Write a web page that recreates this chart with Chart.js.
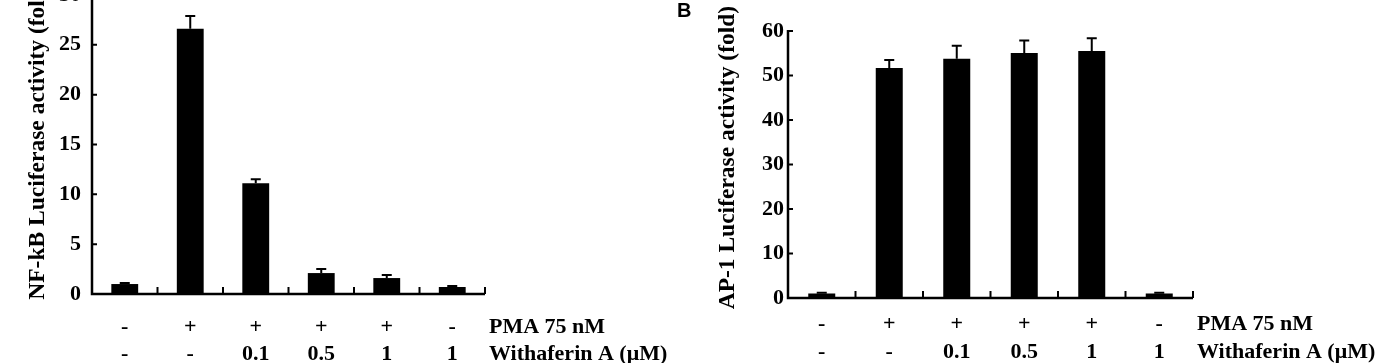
<!DOCTYPE html>
<html><head><meta charset="utf-8">
<script src="https://cdn.jsdelivr.net/npm/chart.js@4"></script>
<style>
html,body{margin:0;padding:0;background:#fff;width:1383px;height:363px;overflow:hidden;position:relative}
#wa{position:absolute;left:0;top:-40px;width:700px;height:403px}
#wb{position:absolute;left:660px;top:0;width:723px;height:363px}
#lb{position:absolute;left:677px;top:0;font:bold 20px "Liberation Sans",Arial,sans-serif;line-height:20px}
</style></head><body>
<div id="wa"><canvas id="ca" width="700" height="403"></canvas></div>
<div id="wb"><canvas id="cb" width="723" height="363"></canvas></div>
<div id="lb">B</div>
<script>
const categories = ['1','2','3','4','5','6'];
const pmaRow = ['-','+','+','+','+','-'];
const withaferinRow = ['-','-','0.1','0.5','1','1'];
const rowNames = ['PMA 75 nM','Withaferin A (\u03bcM)'];
const nfkbValues = [1.0,26.6,11.1,2.1,1.6,0.7];
const nfkbErrors = [0.1,1.3,0.4,0.4,0.3,0.1];
const ap1Values = [1.0,51.7,53.8,55.1,55.5,1.0];
const ap1Errors = [0.2,1.8,2.9,2.8,2.9,0.2];
const nfkbTicks = [0,5,10,15,20,25,30];
const ap1Ticks = [0,10,20,30,40,50,60];

const SERIF = '"Liberation Serif","Times New Roman",serif';

const decor = {
  id: 'decor',
  afterDatasetsDraw(chart, args, o) {
    const ctx = chart.ctx, ys = chart.scales.y, ca = chart.chartArea;
    const meta = chart.getDatasetMeta(0);
    const vals = chart.data.datasets[0].data;
    const n = vals.length;
    ctx.save();
    ctx.strokeStyle = '#000';
    ctx.lineWidth = 2;
    ctx.lineCap = 'butt';
    // error bars (upper)
    meta.data.forEach((bar, i) => {
      const yTop = ys.getPixelForValue(vals[i] + o.errors[i]);
      ctx.beginPath();
      ctx.moveTo(bar.x, bar.y);
      ctx.lineTo(bar.x, yTop);
      ctx.moveTo(bar.x - 5, yTop);
      ctx.lineTo(bar.x + 5, yTop);
      ctx.stroke();
    });
    // axes
    const topTick = ys.getPixelForValue(o.ticks[o.ticks.length - 1]);
    ctx.lineWidth = 2.5;
    ctx.beginPath();
    ctx.moveTo(ca.left, topTick - 1);
    ctx.lineTo(ca.left, ca.bottom);
    ctx.lineTo(ca.right, ca.bottom);
    ctx.stroke();
    ctx.lineWidth = 2;
    ctx.beginPath();
    o.ticks.forEach(v => {
      const y = ys.getPixelForValue(v);
      ctx.moveTo(ca.left, y);
      ctx.lineTo(ca.left + 5, y);
    });
    for (let i = 1; i <= n; i++) {
      const x = ca.left + (ca.right - ca.left) * i / n;
      ctx.moveTo(x, ca.bottom);
      ctx.lineTo(x, ca.bottom - 7);
    }
    ctx.stroke();
    // row names
    ctx.fillStyle = '#000';
    ctx.font = 'bold 22px ' + SERIF;
    ctx.textAlign = 'left';
    ctx.textBaseline = 'middle';
    rowNames.forEach((s, i) => {
      ctx.fillText(s, ca.right + o.nameDx, ca.bottom + o.labPad + o.lh / 2 + i * o.lh);
    });
    ctx.restore();
  }
};

function makeChart(id, values, errors, ticks, yMax, opts) {
  const labels = pmaRow.map((p, i) => [p, withaferinRow[i]]);
  return new Chart(document.getElementById(id), {
    type: 'bar',
    data: {
      labels: labels,
      datasets: [{
        label: opts.title,
        data: values,
        backgroundColor: '#000',
        borderWidth: 0,
        barPercentage: 1,
        categoryPercentage: opts.catPct
      }]
    },
    options: {
      responsive: false,
      animation: false,
      devicePixelRatio: 1,
      layout: { padding: { top: opts.padTop, right: opts.padRight, left: 0, bottom: 0 } },
      plugins: {
        legend: { display: false },
        tooltip: { enabled: false },
        decor: { errors: errors, ticks: ticks, nameDx: opts.nameDx, labPad: opts.labPad, lh: opts.lh }
      },
      scales: {
        x: {
          grid: { display: false, drawTicks: false },
          border: { display: false },
          ticks: {
            color: '#000', padding: opts.labPad, maxRotation: 0, autoSkip: false,
            font: { family: SERIF, size: 22, weight: 'bold', lineHeight: opts.lh / 22 }
          },
          afterFit: s => { s.height = opts.xH; }
        },
        y: {
          min: 0, max: yMax,
          grid: { display: false, drawTicks: false },
          border: { display: false },
          afterBuildTicks: s => { s.ticks = ticks.map(v => ({ value: v })); },
          ticks: {
            color: '#000', padding: opts.yPad,
            font: { family: SERIF, size: 22, weight: 'bold' }
          },
          title: {
            display: true, text: opts.title, color: '#000',
            font: { family: SERIF, size: 23.5, weight: 'bold', lineHeight: 1.2 },
            padding: { top: opts.titlePad, bottom: 0 }
          },
          afterFit: s => { s.width = opts.yW; }
        }
      }
    },
    plugins: [decor]
  });
}

makeChart('ca', nfkbValues, nfkbErrors, nfkbTicks, 31.0, {
  title: 'NF-kB Luciferase activity (fold)', catPct: 0.41,
  padTop: 25, padRight: 215, yW: 92, xH: 69, yPad: 11, titlePad: 24,
  labPad: 20, lh: 27, nameDx: 4
});
makeChart('cb', ap1Values, ap1Errors, ap1Ticks, 63.12, {
  title: 'AP-1 Luciferase activity (fold)', catPct: 0.40,
  padTop: 15, padRight: 190, yW: 128, xH: 65, yPad: 4, titlePad: 54,
  labPad: 12, lh: 28, nameDx: 4
});
</script>
</body></html>
